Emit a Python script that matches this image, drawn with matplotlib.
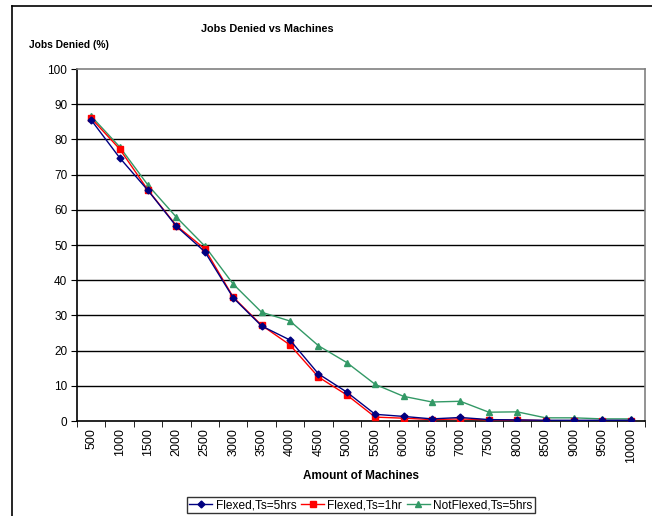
import matplotlib
matplotlib.use("Agg")
import matplotlib.pyplot as plt
from matplotlib.lines import Line2D
import numpy as np

plt.rcParams['font.family'] = ['Liberation Sans', 'DejaVu Sans']

machines = [500, 1000, 1500, 2000, 2500, 3000, 3500, 4000, 4500, 5000,
            5500, 6000, 6500, 7000, 7500, 8000, 8500, 9000, 9500, 10000]
flexed_5hrs = [85.5, 74.8, 65.5, 55.3, 48.1, 35.0, 27.0, 23.0, 13.4, 8.2,
               1.9, 1.3, 0.6, 1.0, 0.4, 0.3, 0.2, 0.2, 0.2, 0.2]
flexed_1hr = [86.0, 77.3, 65.6, 55.5, 48.9, 35.2, 27.2, 21.6, 12.5, 7.4,
              1.1, 0.8, 0.4, 0.6, 0.3, 0.3, 0.1, 0.1, 0.1, 0.1]
notflexed_5hrs = [86.6, 77.9, 67.0, 57.9, 49.7, 38.9, 30.9, 28.4, 21.4, 16.6,
                  10.4, 7.0, 5.4, 5.6, 2.5, 2.6, 0.9, 0.9, 0.6, 0.6]
series_labels = ['Flexed,Ts=5hrs', 'Flexed,Ts=1hr', 'NotFlexed,Ts=5hrs']
yticks = list(range(0, 101, 10))

W, H = 652, 516
fig = plt.figure(figsize=(W / 100, H / 100), dpi=100)

# outer chart-area border (left & top visible)
fig.add_artist(Line2D([12 / W, 12 / W], [0, 1 - 6 / H], color='black', lw=1.2, transform=fig.transFigure))
fig.add_artist(Line2D([12 / W, 1], [1 - 6 / H, 1 - 6 / H], color='black', lw=1.2, transform=fig.transFigure))

ax = fig.add_axes([77 / W, (H - 421) / H, 568 / W, 352 / H])
x = np.arange(len(machines))

ax.plot(x, flexed_5hrs, color='#000080', lw=1, marker='D', ms=3.5, label=series_labels[0], zorder=4)
ax.plot(x, flexed_1hr, color='#FF0000', lw=1, marker='s', ms=4.5, label=series_labels[1], zorder=3)
ax.plot(x, notflexed_5hrs, color='#339966', lw=1, marker='^', ms=5, label=series_labels[2], zorder=2)

ax.set_xlim(-0.5, len(machines) - 0.5)
ax.set_ylim(0, 100)
ax.set_xticks(x)
ax.set_xticklabels([str(m) for m in machines], rotation=90, fontsize=9)
ax.set_xticks(np.arange(-0.5, len(machines)), minor=True)
ax.tick_params(axis='x', which='major', length=0, pad=5)
ax.tick_params(axis='x', which='minor', length=4, direction='out', color='black')
ax.set_yticks(yticks)
ax.set_yticklabels([str(v) for v in yticks], fontsize=8.5)
ax.tick_params(axis='y', length=4, direction='out', color='black', pad=3)

for v in yticks[1:-1]:
    ax.axhline(v, color='black', lw=1, zorder=1)

ax.spines['left'].set_color('black')
ax.spines['bottom'].set_color('black')
ax.spines['top'].set_color('#808080')
ax.spines['right'].set_color('#808080')
for s in ax.spines.values():
    s.set_linewidth(1.2)

fig.text(267 / W, 1 - 29 / H, 'Jobs Denied vs Machines', ha='center', va='center',
         fontsize=7.8, fontweight='bold')
fig.text(29 / W, 1 - 45 / H, 'Jobs Denied (%)', ha='left', va='center',
         fontsize=7.4, fontweight='bold')
fig.text(361 / W, 1 - 476 / H, 'Amount of Machines', ha='center', va='center',
         fontsize=8.5, fontweight='bold')

leg = fig.legend(loc='center', bbox_to_anchor=(361 / W, 1 - 505 / H), ncol=3,
                 fontsize=8.6, frameon=True, fancybox=False, edgecolor='black',
                 handlelength=1.9, handletextpad=0.3, columnspacing=0.4,
                 borderpad=0.2, borderaxespad=0)
leg.get_frame().set_linewidth(1)

fig.savefig('out.png', dpi=100)
